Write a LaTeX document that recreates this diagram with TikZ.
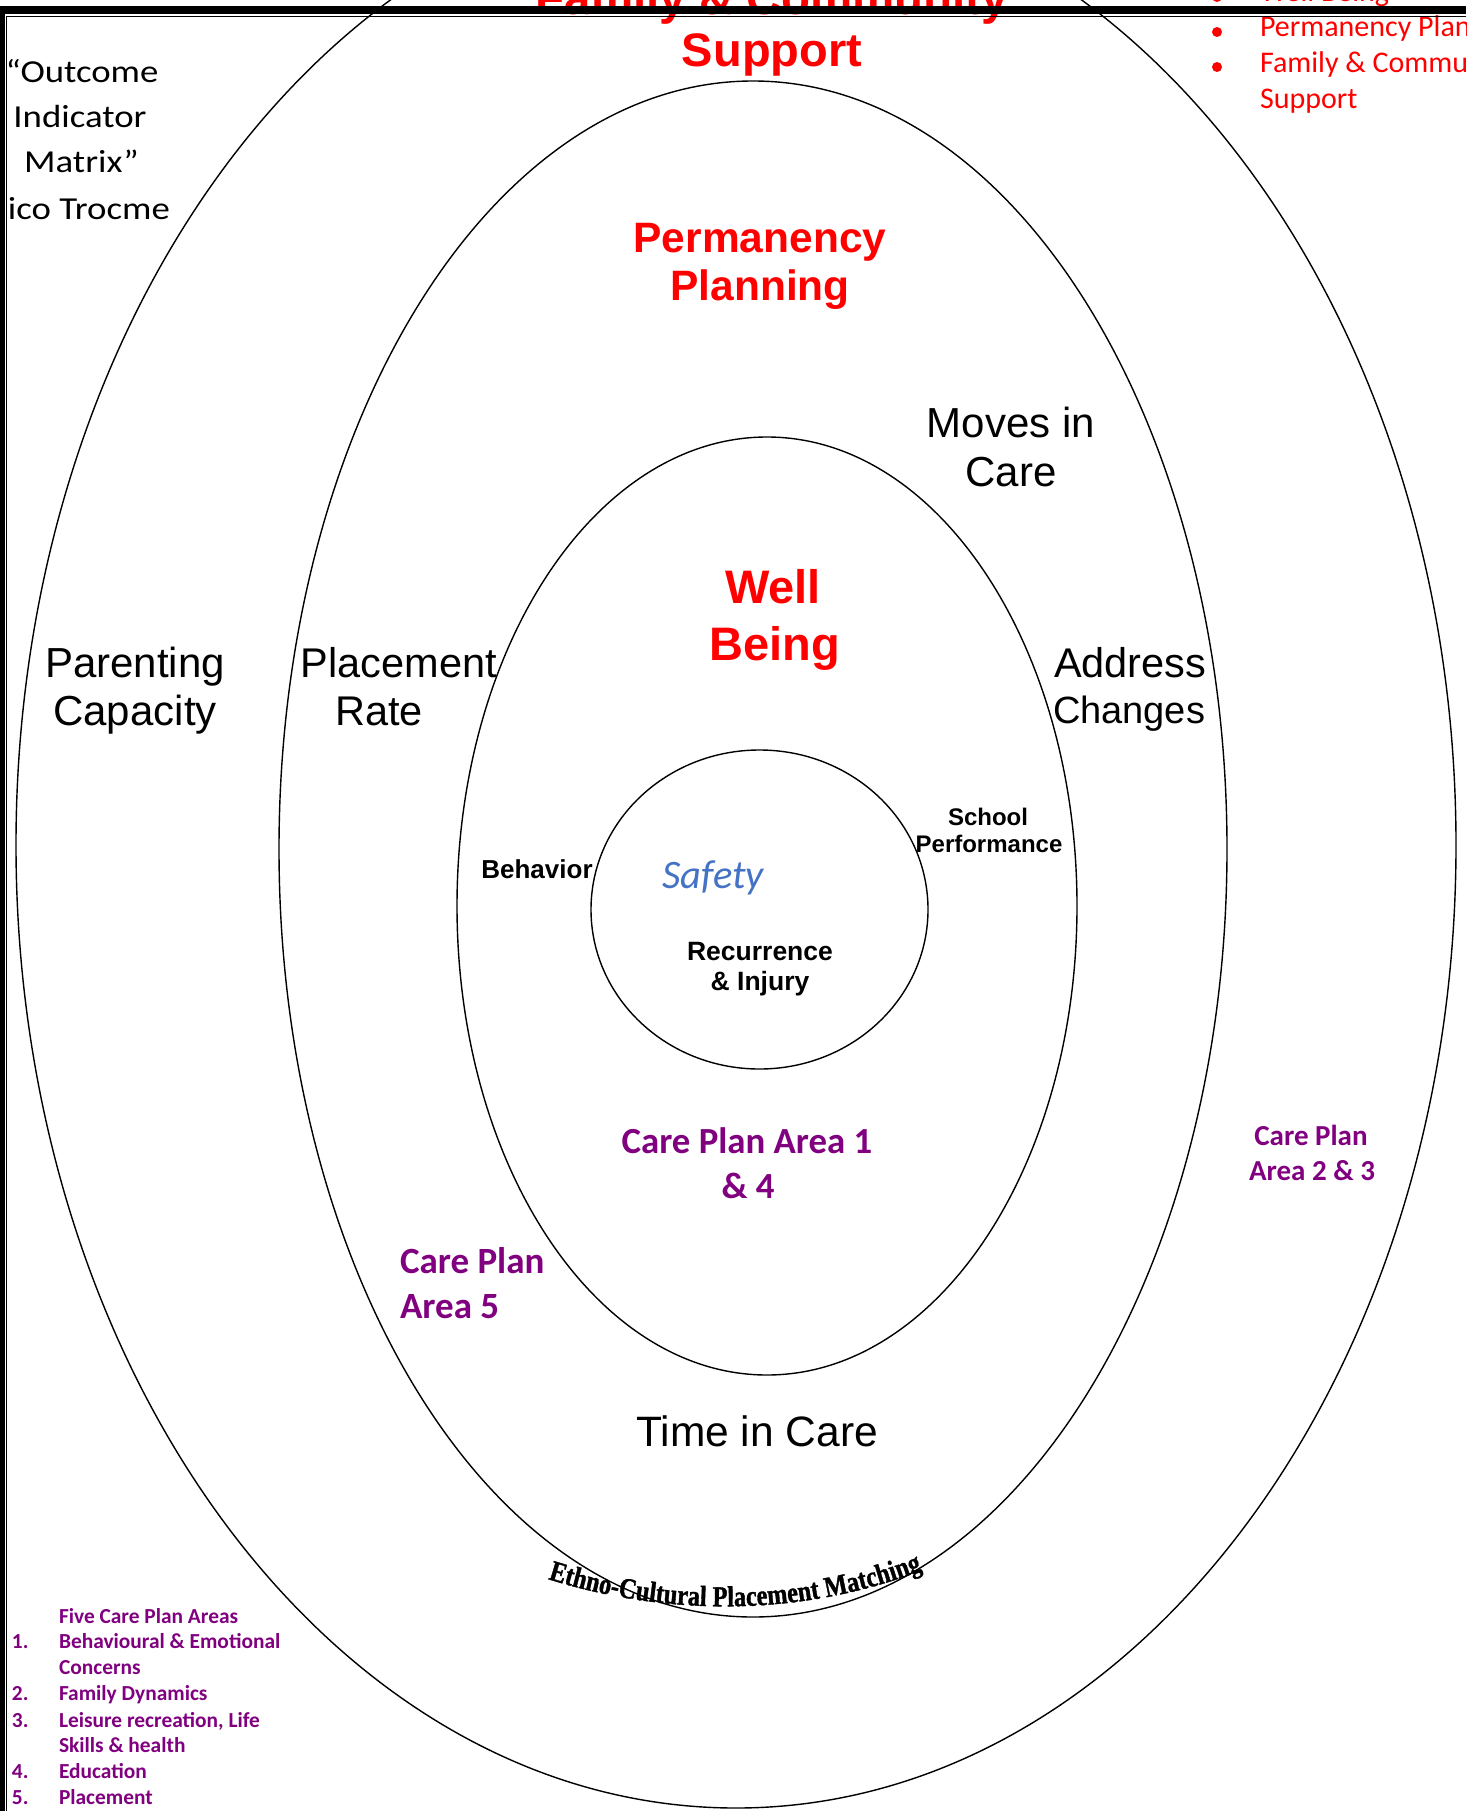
\documentclass[tikz,border=0pt]{standalone}
\usepackage{fontspec}
\setmainfont{Liberation Sans}
\newfontfamily\arialf{Liberation Sans}
\newfontfamily\calf{Carlito}
\newfontfamily\serf{Liberation Serif}[FakeStretch=0.84,FakeBold=1.2]
\usetikzlibrary{decorations.text,shapes.geometric}
\definecolor{tred}{RGB}{255,0,0}
\definecolor{tpurple}{RGB}{128,0,128}
\definecolor{tblue}{RGB}{68,114,196}
\newcommand\fsz[1]{\fontsize{#1pt}{#1pt}\selectfont}
\tikzset{
  ring/.style={draw, ellipse, line width=1.4pt, inner sep=0pt, outer sep=0pt},
  lbl/.style={inner sep=0pt, outer sep=0pt, anchor=base},
  reg/.style={lbl, font=\arialf\fsz{#1}},
  redb/.style={lbl, text=tred, font=\arialf\bfseries\fsz{#1}},
  blkb/.style={lbl, font=\arialf\bfseries\fsz{#1}},
  pur/.style={lbl, text=tpurple, font=\calf\bfseries\fsz{#1}},
  cal/.style={lbl, font=\calf\fsz{#1}},
  leg/.style={pur=21.4, anchor=base west},
  bul/.style={fill=tred},
}
\begin{document}
\begin{tikzpicture}[x=1pt,y=-1pt]
\useasboundingbox (0,0) rectangle (1466,1811);
\fill[white] (0,0) rectangle (1466,1811);
\begin{scope}
\clip (0,0) rectangle (1466,1811);
% rings
\node[ring, minimum width=1440pt, minimum height=1926pt] (outer) at (736,845) {};
\node[ring, minimum width=948pt, minimum height=1536pt] (middle) at (753,849) {};
\node[ring, minimum width=620pt, minimum height=938pt] (inner) at (767,906) {};
\node[ring, minimum width=337pt, minimum height=319pt] (core) at (759.5,909.5) {};

% titles and labels
\node[redb=47.5] (fam) at (772,15) {Family \& Community};
\node[redb=47] (sup) at (772,67) {Support};
\node[redb=42.5] (perm1) at (760,253) {Permanency};
\node[redb=42.5] (perm2) at (760,300) {Planning};
\node[reg=42] (moves1) at (1011,437) {Moves in};
\node[reg=42] (moves2) at (1011,486) {Care};
\node[redb=47] (well1) at (773,603) {Well};
\node[redb=47] (well2) at (775,660) {Being};
\node[reg=42] (par1) at (135,677) {Parenting};
\node[reg=42] (par2) at (135,725) {Capacity};
\node[reg=41.5] (pla1) at (399,677) {Placement};
\node[reg=41.5] (pla2) at (379,725) {Rate};
\node[reg=41.5, anchor=base west] (adr1) at (1054,677) {Address};
\node[reg=38, anchor=base west] (adr2) at (1053,723) {Changes};
\node[blkb=26] (beh) at (537,878) {Behavior};
\node[blkb=24] (sch1) at (988,825) {School};
\node[blkb=24] (sch2) at (989,852) {Performance};
\node[lbl, text=tblue, font=\calf\itshape\fsz{40.5}] (saf) at (713,888) {Safety};
\node[blkb=26.5] (rec1) at (760,960) {Recurrence};
\node[blkb=26.5] (rec2) at (760,990) {\& Injury};
\node[pur=36.8] (cpa1) at (747,1153) {Care Plan Area 1};
\node[pur=36.8] (cpa2) at (748,1198) {\& 4};
\node[pur=37, anchor=base west] (cp5a) at (400,1273) {Care Plan};
\node[pur=37, anchor=base west] (cp5b) at (400,1318) {Area 5};
\node[pur=29] (cp23a) at (1311,1145) {Care Plan};
\node[pur=29] (cp23b) at (1312,1180) {Area 2 \& 3};
\node[reg=42.5] (time) at (757,1446) {Time in Care};

% curved label along the middle ring
\path[decorate, decoration={text along path, text align=center,
  text={|\serf\bfseries\fsz{29}|Ethno-Cultural Placement Matching}}]
  (530,1573) .. controls (660,1619) and (810,1619) .. (940,1563);

% legend
\node[leg] (lg0) at (59,1623) {Five Care Plan Areas};
\node[leg] (n1) at (12,1648) {1.};
\node[leg] (lg1) at (59,1648) {Behavioural \& Emotional};
\node[leg] (lg1b) at (59,1674) {Concerns};
\node[leg] (n2) at (12,1700) {2.};
\node[leg] (lg2) at (59,1700) {Family Dynamics};
\node[leg] (n3) at (12,1727) {3.};
\node[leg] (lg3) at (59,1727) {Leisure recreation, Life};
\node[leg] (lg3b) at (59,1752) {Skills \& health};
\node[leg] (n4) at (12,1778) {4.};
\node[leg] (lg4) at (59,1778) {Education};
\node[leg] (n5) at (12,1804) {5.};
\node[leg] (lg5) at (59,1804) {Placement};

% top right list
\fill[bul] (1217,-3) circle (5pt);
\fill[bul] (1217,32) circle (5pt);
\fill[bul] (1217,67) circle (5pt);
\node[cal=30, text=tred, anchor=base west] (tr1) at (1260,1.5) {Well Being};
\node[cal=30, text=tred, anchor=base west] (tr2) at (1260,37) {Permanency Plan};
\node[cal=30, text=tred, anchor=base west] (tr3) at (1260,73) {Family \& Community};
\node[cal=30, text=tred, anchor=base west] (tr4) at (1260,109) {Support};

% top left title
\begin{scope}
\clip (7.5,0) rectangle (400,400);
\node[cal=32] (tl1) at (82,83) {\scalebox{1.15}[1]{“Outcome}};
\node[cal=32] (tl2) at (80,128) {\scalebox{1.15}[1]{Indicator}};
\node[cal=32] (tl3) at (81.5,173) {\scalebox{1.15}[1]{Matrix”}};
\node[cal=32] (tl4) at (77,220) {\scalebox{1.15}[1]{Nico Trocme}};
\end{scope}

% page border
\fill (0,6) rectangle (1466,14);
\fill (0,6) rectangle (4.5,1811);
\draw[line width=1.3pt] (6.8,1811) -- (6.8,16.3) -- (1466,16.3);
\end{scope}
\end{tikzpicture}
\end{document}
